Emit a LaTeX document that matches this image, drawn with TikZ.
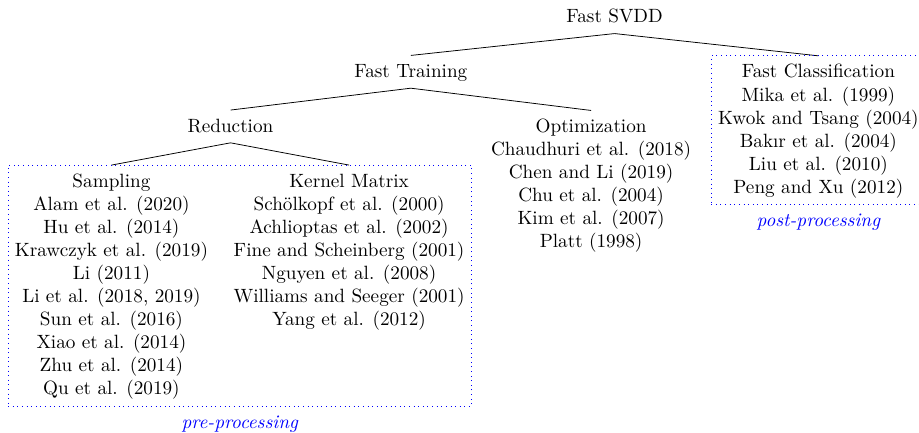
\documentclass[tikz,border=0pt]{standalone}
\usepackage{amsmath, amsfonts, amssymb}
\usetikzlibrary{positioning, fit}

\newcommand{\hd}{\rule{0pt}{8pt}}

\begin{document}
\begin{tikzpicture}[
        lvl/.style={anchor=base, text height=8pt, text depth=2pt},
        blk/.style={anchor=north, align=center},
        frm/.style={draw=blue, dotted, inner sep=0pt},
        tag/.style={text=blue, font=\itshape}
    ]
        \useasboundingbox (0,0) rectangle (16.822,-7.908);
        \node[lvl] (svdd) at (11.25,-0.42) {Fast SVDD};
        \node[lvl] (train) at (7.52,-1.42) {Fast Training};
        \node[blk] (classif) at (14.98,-1.022) {\hd Fast Classification\\ Mika et al. (1999)\\ Kwok and Tsang (2004)\\ Bak{\i}r et al. (2004)\\ Liu et al. (2010)\\ Peng and Xu (2012)};
        \node[lvl] (reduc) at (4.22,-2.42) {Reduction};
        \node[blk] (optim) at (10.82,-2.022) {\hd Optimization\\ Chaudhuri et al. (2018)\\ Chen and Li (2019)\\ Chu et al. (2004)\\ Kim et al. (2007)\\ Platt (1998)};
        \node[blk] (sampl) at (2.04,-3.022) {\hd Sampling\\ Alam et al. (2020)\\ Hu et al. (2014)\\ Krawczyk et al. (2019)\\ Li (2011)\\ Li et al. (2018, 2019)\\ Sun et al. (2016)\\ Xiao et al. (2014)\\ Zhu et al. (2014)\\ Qu et al. (2019)};
        \node[blk] (kernel) at (6.39,-3.022) {\hd Kernel Matrix\\ Sch\"olkopf et al. (2000)\\ Achlioptas et al. (2002)\\ Fine and Scheinberg (2001)\\ Nguyen et al. (2008)\\ Williams and Seeger (2001)\\ Yang et al. (2012)};
        \draw (svdd.south) -- (train.north);
        \draw (svdd.south) -- (classif.north);
        \draw (train.south) -- (reduc.north);
        \draw (train.south) -- (optim.north);
        \draw (reduc.south) -- (sampl.north);
        \draw (reduc.south) -- (kernel.north);
        % dotted frames
        \node[frm, fit=(sampl)(kernel)] (pre) {};
        \node[frm, fit=(classif)] (post) {};
        \node[tag, below=1.3pt of pre] (pretag) {pre-processing};
        \node[tag, below=1.3pt of post] (posttag) {post-processing};
    \end{tikzpicture}
\end{document}
